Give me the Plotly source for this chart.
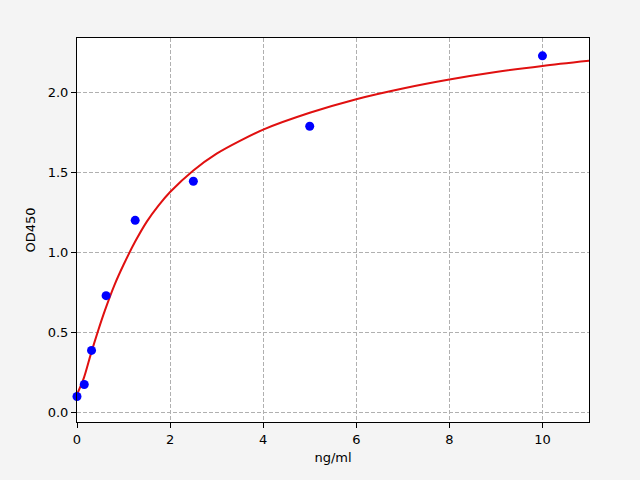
import plotly.graph_objs as go

# standard points
conc = [0, 0.156, 0.312, 0.625, 1.25, 2.5, 5, 10]
od450 = [0.097, 0.172, 0.385, 0.727, 1.198, 1.442, 1.786, 2.226]

# fitted curve
fit_x = [0, 0.15, 0.3, 0.45, 0.6, 0.8, 1.0, 1.25, 1.5, 1.75, 2.0, 2.5,
         3.0, 3.5, 4.0, 5.0, 6.0, 7.0, 8.0, 9.0, 10.0, 11.0]
fit_y = [0.11, 0.215, 0.365, 0.505, 0.635, 0.79, 0.92, 1.065, 1.19, 1.29,
         1.375, 1.51, 1.615, 1.695, 1.765, 1.87, 1.955, 2.022, 2.078, 2.125,
         2.163, 2.195]

x_ticks = [0, 2, 4, 6, 8, 10]
y_ticks = [0.0, 0.5, 1.0, 1.5, 2.0]

font = dict(family='DejaVu Sans', size=13, color='black')

fig = go.Figure()
fig.add_trace(go.Scatter(
    x=fit_x, y=fit_y, mode='lines',
    line=dict(color='#e01010', width=2, shape='spline', smoothing=0.8),
    showlegend=False,
))
fig.add_trace(go.Scatter(
    x=conc, y=od450, mode='markers',
    marker=dict(color='#0000ff', size=9, line_width=0),
    showlegend=False, cliponaxis=False,
))

axis_style = dict(
    showline=True, linecolor='black', linewidth=1, mirror=True,
    ticks='outside', ticklen=5, tickwidth=1, tickcolor='black',
    showgrid=True, gridcolor='#b0b0b0', griddash='4px,2px', gridwidth=1,
    zeroline=False, tickfont=font,
)

fig.update_layout(
    width=640, height=480,
    paper_bgcolor='#f4f4f4', plot_bgcolor='white',
    margin=dict(l=77, r=51, t=38, b=58),
    font=font,
    xaxis=dict(axis_style, range=[0, 11], tickvals=x_ticks,
               title=dict(text='ng/ml', font=font, standoff=7)),
    yaxis=dict(axis_style, range=[-0.0625, 2.3375], tickvals=y_ticks,
               tickformat='.1f',
               title=dict(text='OD450', font=font, standoff=9)),
)

# drop the browser's default page margin so the figure sits at 0,0
fig.write_html(
    "out.html",
    config={'displayModeBar': False},
    post_script="document.body.style.margin='0';"
                "document.body.style.background='#f4f4f4';",
)
